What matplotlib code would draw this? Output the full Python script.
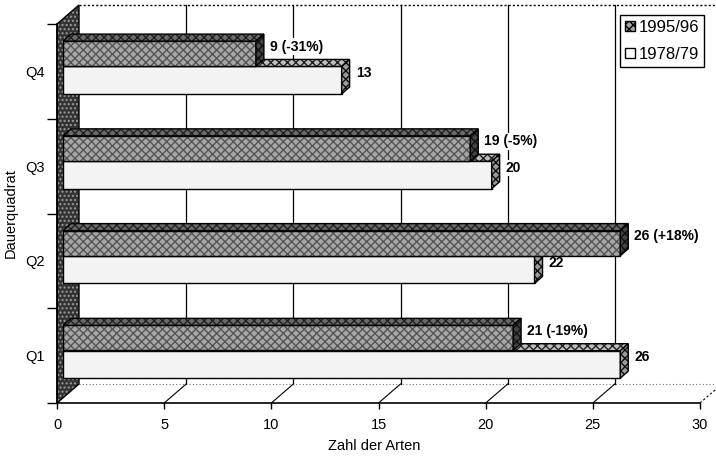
import matplotlib
matplotlib.use("Agg")
import matplotlib.pyplot as plt
import numpy as np
from matplotlib.patches import Polygon, Patch
from matplotlib.transforms import offset_copy, IdentityTransform
from matplotlib.lines import Line2D

plt.rcParams['font.family'] = ['Liberation Sans', 'DejaVu Sans']

# ---- data ----
categories = ['Q1', 'Q2', 'Q3', 'Q4']
series_names = ['1995/96', '1978/79']
values_1995 = [21, 26, 19, 9]
values_1978 = [26, 22, 20, 13]
labels_1995 = ['21 (-19%)', '26 (+18%)', '19 (-5%)', '9 (-31%)']
labels_1978 = ['26', '22', '20', '13']
xticks = [0, 5, 10, 15, 20, 25, 30]

W, H = 716, 462
fig = plt.figure(figsize=(W / 100, H / 100), dpi=100)
ax = fig.add_axes([57 / W, 59 / H, 643 / W, 379 / H])
ax.set_xlim(0, 30)
ax.set_ylim(-0.5, 3.5)

# 3D geometry in pixels
DX, DY = 22, 19      # wall depth
BX = 6               # bar front offset
bx, by = 8, 7        # bar depth

def P(x, y, dx=0, dy=0):
    p = ax.transData.transform((x, y))
    return (p[0] + dx, p[1] + dy)

def poly(pts, fc, ec='black', lw=1.0, z=2, hatch=None, hc=None):
    ax.add_patch(Polygon(pts, closed=True, facecolor=fc, edgecolor='none', lw=0,
                         transform=IdentityTransform(), clip_on=False, zorder=z))
    if hatch:
        ax.add_patch(Polygon(pts, closed=True, fill=False, edgecolor=hc, lw=0, hatch=hatch,
                             transform=IdentityTransform(), clip_on=False, zorder=z))
    ax.add_patch(Polygon(pts, closed=True, fill=False, edgecolor=ec, lw=lw,
                         transform=IdentityTransform(), clip_on=False, zorder=z))

y0, y1 = -0.5, 3.5
# left wall
poly([P(0, y0), P(0, y1), P(0, y1, DX, DY), P(0, y0, DX, DY)], '#333333', ec='black', lw=1,
     z=1, hatch='....', hc='#999999')

# back wall gridlines
for xv in xticks[1:]:
    a = P(xv, y0, DX, DY); b = P(xv, y1, DX, DY)
    ax.add_line(Line2D([a[0], b[0]], [a[1], b[1]], color='black', lw=0.9,
                       transform=IdentityTransform(), clip_on=False, zorder=0.5))
# top dotted edge
a = P(0, y1, DX, DY); b = P(30, y1, DX, DY)
ax.add_line(Line2D([a[0], b[0]], [a[1], b[1]], color='black', lw=1.0, ls=(0, (1.5, 1.5)),
                   transform=IdentityTransform(), clip_on=False, zorder=0.5))
# floor back edge (dotted)
a = P(0, y0, DX, DY); b = P(30, y0, DX, DY)
ax.add_line(Line2D([a[0], b[0]], [a[1], b[1]], color='#777777', lw=0.8, ls=(0, (1, 2)),
                   transform=IdentityTransform(), clip_on=False, zorder=0.5))
# floor diagonals
for xv in xticks[1:]:
    a = P(xv, y0); b = P(xv, y0, DX, DY)
    ax.add_line(Line2D([a[0], b[0]], [a[1], b[1]], color='black', lw=0.8,
                       ls='-' if xv < 30 else (0, (2, 2)),
                       transform=IdentityTransform(), clip_on=False, zorder=0.5))

# bars
pos = np.arange(len(categories))
c95, h95 = 0.187, 0.265
c78, h78 = -0.093, 0.29
front_tr = offset_copy(ax.transData, fig=fig, x=BX, y=0, units='dots')

def bar3d(yc, h, v, front_fc, front_hatch, top_fc, side_fc, z):
    ax.barh([yc], [v], height=h, left=0, color=front_fc, edgecolor='#555555', lw=0,
            hatch=front_hatch, transform=front_tr, zorder=z, clip_on=False)
    ax.barh([yc], [v], height=h, left=0, fill=False, edgecolor='black', lw=1.0,
            transform=front_tr, zorder=z, clip_on=False)
    top = yc + h / 2; bot = yc - h / 2
    poly([P(0, top, BX), P(v, top, BX), P(v, top, BX + bx, by), P(0, top, BX + bx, by)],
         top_fc, z=z, hatch='xxxx', hc='#222222')
    poly([P(v, bot, BX), P(v, top, BX), P(v, top, BX + bx, by), P(v, bot, BX + bx, by)],
         side_fc, z=z, hatch='xxxx', hc='#111111')

lab_box = dict(facecolor='white', edgecolor='none', pad=1.0)
for i in range(len(categories)):
    bar3d(pos[i] + c78, h78, values_1978[i], '#f3f3f3', None, '#bdbdbd', '#9a9a9a', 2 + i * 0.01)
    bar3d(pos[i] + c95, h95, values_1995[i], '#a6a6a6', 'xxxx', '#6a6a6a', '#444444', 3 + i * 0.01)
    ax.annotate(labels_1978[i], xy=(values_1978[i], pos[i] + c78), xycoords='data',
                xytext=(BX + bx + 6, 7), textcoords='offset pixels', ha='left', va='center',
                fontsize=10, fontweight='bold', zorder=1.5, bbox=lab_box)
    ax.annotate(labels_1995[i], xy=(values_1995[i], pos[i] + c95), xycoords='data',
                xytext=(BX + bx + 6, 7), textcoords='offset pixels', ha='left', va='center',
                fontsize=10, fontweight='bold', zorder=1.5, bbox=lab_box)

# axes styling
for s in ['top', 'right']:
    ax.spines[s].set_visible(False)
for s in ['left', 'bottom']:
    ax.spines[s].set_linewidth(1.2)
    ax.spines[s].set_zorder(6)
ax.patch.set_alpha(0)

ax.set_xticks(xticks)
ax.set_xticklabels([str(t) for t in xticks], fontsize=10.5)
ax.tick_params(axis='x', direction='out', length=4, width=1, pad=7)

ax.set_yticks([-0.5, 0.5, 1.5, 2.5, 3.5])
ax.set_yticklabels([])
ax.tick_params(axis='y', which='major', direction='out', length=7, width=1)
ax.set_yticks(pos, minor=True)
ax.set_yticklabels(categories, minor=True, fontsize=10.5)
ax.tick_params(axis='y', which='minor', length=0, pad=9)

ax.set_xlabel('Zahl der Arten', fontsize=10.5)
ax.xaxis.set_label_coords((374.5 - 57) / 643, (403 - 439) / 379)
ax.set_ylabel('Dauerquadrat', fontsize=10.5)
ax.yaxis.set_label_coords((18 - 57) / 643, 0.5)

handles = [Patch(facecolor='#a6a6a6', edgecolor='black', hatch='xxxx', lw=1),
           Patch(facecolor='white', edgecolor='black', lw=1)]
leg = fig.legend(handles, series_names, loc='upper right',
                 bbox_to_anchor=(704 / W, (H - 15) / H), fontsize=12,
                 frameon=True, fancybox=False, edgecolor='black', framealpha=1,
                 handlelength=0.6, handleheight=0.6, handletextpad=0.2,
                 borderpad=0.3, labelspacing=0.7, borderaxespad=0)
leg.get_frame().set_linewidth(1.0)

fig.savefig('out.png', dpi=100)
